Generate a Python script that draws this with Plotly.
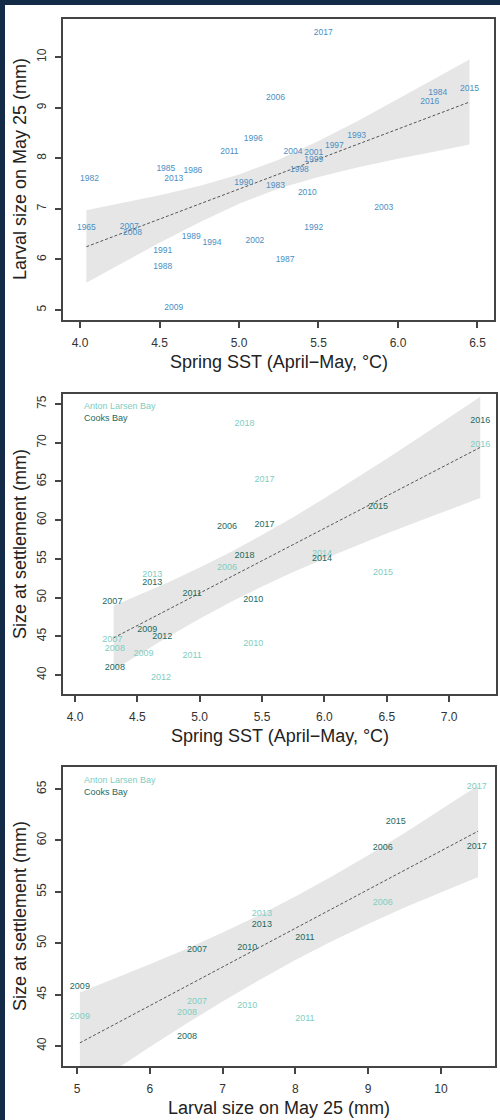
import plotly.graph_objects as go

W, H = 500, 1120
NAVY = "#142b47"
BLUE = "#4a8fc4"
LIGHT = "#80cdc1"
DARK = "#1d6a60"
BAND = "#e6e6e6"
FITC = "#555555"
AXC = "#444444"
FONT = "Liberation Sans, Arial, sans-serif"

# ---------------- Panel 1: larval size vs spring SST ----------------
p1_years = ["1982", "1985", "2013", "1986", "2011", "1996", "2017", "2006", "2004",
            "2001", "1999", "1997", "1993", "1998", "1984", "2016", "2015", "1983",
            "1990", "2010", "2003", "1965", "2007", "2008", "1989", "1994", "1991",
            "1988", "2009", "2002", "1992", "1987"]
p1_sst = [4.06, 4.54, 4.59, 4.71, 4.94, 5.09, 5.53, 5.23, 5.34,
          5.47, 5.47, 5.60, 5.74, 5.38, 6.25, 6.20, 6.45, 5.23,
          5.03, 5.43, 5.91, 4.04, 4.31, 4.33, 4.70, 4.83, 4.52,
          4.52, 4.59, 5.10, 5.47, 5.29]
p1_size = [7.59, 7.79, 7.59, 7.75, 8.12, 8.38, 10.47, 9.19, 8.12,
           8.10, 7.96, 8.24, 8.44, 7.77, 9.29, 9.11, 9.37, 7.45,
           7.51, 7.31, 7.02, 6.62, 6.64, 6.52, 6.44, 6.32, 6.17,
           5.85, 5.04, 6.36, 6.62, 5.99]
p1_fit_x = [4.04, 6.45]
p1_fit_y = [6.25, 9.11]
p1_band_x = [4.04, 4.25, 4.5, 4.75, 5.0, 5.25, 5.5, 5.75, 6.0, 6.25, 6.45]
p1_band_lo = [5.54, 5.90, 6.33, 6.73, 7.10, 7.40, 7.63, 7.82, 7.99, 8.14, 8.27]
p1_band_hi = [6.97, 7.10, 7.27, 7.45, 7.68, 7.97, 8.34, 8.74, 9.17, 9.60, 9.95]
p1_xticks = [4.0, 4.5, 5.0, 5.5, 6.0, 6.5]
p1_xticktext = ["4.0", "4.5", "5.0", "5.5", "6.0", "6.5"]
p1_yticks = [5, 6, 7, 8, 9, 10]

# ---------------- Panel 2: size at settlement vs spring SST ----------------
p2_anton_years = ["2018", "2017", "2016", "2015", "2014", "2013", "2012", "2011",
                  "2010", "2009", "2008", "2007", "2006"]
p2_anton_sst = [5.36, 5.52, 7.25, 6.47, 5.98, 4.62, 4.69, 4.94, 5.43, 4.55, 4.32, 4.30, 5.22]
p2_anton_size = [72.4, 65.2, 69.7, 53.2, 55.6, 53.0, 39.7, 42.5, 44.0, 42.8, 43.4, 44.5, 53.9]
p2_cooks_years = ["2018", "2017", "2016", "2015", "2014", "2013", "2012", "2011",
                  "2010", "2009", "2008", "2007", "2006"]
p2_cooks_sst = [5.36, 5.52, 7.25, 6.43, 5.98, 4.62, 4.70, 4.94, 5.43, 4.58, 4.32, 4.30, 5.22]
p2_cooks_size = [55.4, 59.4, 72.9, 61.7, 55.0, 51.9, 44.9, 50.5, 49.7, 45.8, 40.9, 49.4, 59.2]
p2_fit_x = [4.31, 7.25]
p2_fit_y = [44.8, 69.4]
p2_band_x = [4.31, 4.5, 4.75, 5.0, 5.25, 5.5, 5.75, 6.0, 6.25, 6.5, 6.75, 7.0, 7.25]
p2_band_lo = [40.65, 42.55, 44.97, 47.27, 49.42, 51.42, 53.29, 55.03, 56.69, 58.28, 59.83, 61.34, 62.85]
p2_band_hi = [48.95, 50.23, 51.99, 53.87, 55.90, 58.08, 60.39, 62.83, 65.35, 67.94, 70.57, 73.24, 75.95]
p2_xticks = [4.0, 4.5, 5.0, 5.5, 6.0, 6.5, 7.0]
p2_xticktext = ["4.0", "4.5", "5.0", "5.5", "6.0", "6.5", "7.0"]
p2_yticks = [40, 45, 50, 55, 60, 65, 70, 75]

# ---------------- Panel 3: size at settlement vs larval size ----------------
p3_anton_years = ["2017", "2013", "2006", "2011", "2010", "2009", "2008", "2007"]
p3_anton_larval = [10.49, 7.54, 9.20, 8.13, 7.34, 5.04, 6.51, 6.65]
p3_anton_size = [65.2, 52.9, 53.9, 42.6, 43.9, 42.8, 43.2, 44.3]
p3_cooks_years = ["2017", "2015", "2006", "2013", "2011", "2010", "2009", "2007", "2008"]
p3_cooks_larval = [10.49, 9.38, 9.20, 7.54, 8.13, 7.34, 5.04, 6.65, 6.51]
p3_cooks_size = [59.4, 61.8, 59.3, 51.8, 50.5, 49.6, 45.8, 49.4, 40.9]
p3_fit_x = [5.04, 10.51]
p3_fit_y = [40.3, 60.9]
p3_band_x = [5.04, 5.5, 6.0, 6.5, 7.0, 7.5, 8.0, 8.5, 9.0, 9.5, 10.0, 10.51]
p3_band_lo = [35.40, 37.57, 39.90, 42.16, 44.33, 46.40, 48.36, 50.18, 51.87, 53.47, 54.98, 56.45]
p3_band_hi = [45.20, 46.49, 47.94, 49.44, 51.03, 52.72, 54.54, 56.48, 58.55, 60.73, 62.98, 65.35]
p3_xticks = [5, 6, 7, 8, 9, 10]
p3_yticks = [40, 45, 50, 55, 60, 65]

legend_labels = ["Anton Larsen Bay", "Cooks Bay"]
x_titles = ["Spring SST (April\u2212May, \u00b0C)", "Spring SST (April\u2212May, \u00b0C)",
            "Larval size on May 25 (mm)"]
y_titles = ["Larval size on May 25 (mm)", "Size at settlement (mm)", "Size at settlement (mm)"]

fig = go.Figure()


def band(xs, lo, hi, xa, ya):
    fig.add_trace(go.Scatter(x=xs + xs[::-1], y=lo + hi[::-1], fill="toself",
                             fillcolor=BAND, line=dict(width=0), mode="lines",
                             hoverinfo="skip", showlegend=False, xaxis=xa, yaxis=ya))


def fit(xs, ys, xa, ya):
    fig.add_trace(go.Scatter(x=xs, y=ys, mode="lines",
                             line=dict(color=FITC, width=1, dash="3px,2px"),
                             showlegend=False, xaxis=xa, yaxis=ya))


def labels(xs, ys, txt, color, xa, ya, size=8.5):
    fig.add_trace(go.Scatter(x=xs, y=ys, text=txt, mode="text",
                             textposition="middle center",
                             textfont=dict(size=size, color=color, family=FONT),
                             showlegend=False, xaxis=xa, yaxis=ya))


band(p1_band_x, p1_band_lo, p1_band_hi, "x", "y")
fit(p1_fit_x, p1_fit_y, "x", "y")
labels(p1_sst, p1_size, p1_years, BLUE, "x", "y")

band(p2_band_x, p2_band_lo, p2_band_hi, "x2", "y2")
fit(p2_fit_x, p2_fit_y, "x2", "y2")
labels(p2_anton_sst, p2_anton_size, p2_anton_years, LIGHT, "x2", "y2", 9)
labels(p2_cooks_sst, p2_cooks_size, p2_cooks_years, DARK, "x2", "y2", 9)

band(p3_band_x, p3_band_lo, p3_band_hi, "x3", "y3")
fit(p3_fit_x, p3_fit_y, "x3", "y3")
labels(p3_anton_larval, p3_anton_size, p3_anton_years, LIGHT, "x3", "y3", 9)
labels(p3_cooks_larval, p3_cooks_size, p3_cooks_years, DARK, "x3", "y3", 9)


def px_x(p):
    return p / W


def px_y(p):
    return 1 - p / H


def xax(domain, rng, tv, tt, anchor):
    return dict(domain=domain, range=rng, anchor=anchor, tickvals=tv, ticktext=tt,
                showline=True, mirror=True, linecolor=AXC, linewidth=1.5,
                ticks="outside", ticklen=6, tickwidth=1.5, tickcolor=AXC,
                showgrid=False, zeroline=False, ticklabelstandoff=5,
                tickfont=dict(size=12, color="#333333", family=FONT))


def yax(domain, rng, tv, anchor):
    return dict(domain=domain, range=rng, anchor=anchor, tickvals=tv,
                ticktext=[str(v) for v in tv],
                showline=True, mirror=True, linecolor=AXC, linewidth=1.5,
                ticks="outside", ticklen=6, tickwidth=1.5, tickcolor=AXC,
                showgrid=False, zeroline=False, tickangle=-90, ticklabelstandoff=4,
                tickfont=dict(size=12, color="#333333", family=FONT))


xd = [px_x(63), px_x(494)]
fig.update_layout(
    width=W, height=H,
    margin=dict(l=0, r=0, t=0, b=0),
    paper_bgcolor=NAVY, plot_bgcolor="white",
    font=dict(family=FONT),
    xaxis=xax(xd, [3.893, 6.604], p1_xticks, p1_xticktext, "y"),
    yaxis=yax([px_y(320), px_y(19)], [4.802, 10.751], p1_yticks, "x"),
    xaxis2=xax([px_x(63), px_x(496)], [3.904, 7.376], p2_xticks, p2_xticktext, "y2"),
    yaxis2=yax([px_y(694), px_y(394)], [37.55, 76.29], p2_yticks, "x2"),
    xaxis3=xax([px_x(63), px_x(495)], [4.808, 10.742], p3_xticks, [str(v) for v in p3_xticks], "y3"),
    yaxis3=yax([px_y(1066), px_y(767)], [38.05, 67.14], p3_yticks, "x3"),
    shapes=[dict(type="rect", xref="paper", yref="paper", x0=px_x(5), x1=1,
                 y0=0, y1=px_y(5), fillcolor="white", line=dict(width=0), layer="below")],
)

ann = []
# axis titles
for (cx, cy, t) in [(279, 362, x_titles[0]), (280, 736, x_titles[1]), (279, 1108, x_titles[2])]:
    ann.append(dict(x=px_x(cx), y=px_y(cy), xref="paper", yref="paper", text=t,
                    showarrow=False, xanchor="center", yanchor="middle",
                    font=dict(size=18, color="#222222", family=FONT)))
for (cx, cy, t) in [(20, 169, y_titles[0]), (20, 544, y_titles[1]), (20, 916, y_titles[2])]:
    ann.append(dict(x=px_x(cx), y=px_y(cy), xref="paper", yref="paper", text=t,
                    showarrow=False, xanchor="center", yanchor="middle", textangle=-90,
                    font=dict(size=18, color="#222222", family=FONT)))
# in-panel legends
for (ly, col, t) in [(406, LIGHT, legend_labels[0]), (418, DARK, legend_labels[1]),
                     (780, LIGHT, legend_labels[0]), (792, DARK, legend_labels[1])]:
    ann.append(dict(x=px_x(82), y=px_y(ly), xref="paper", yref="paper", text=t,
                    showarrow=False, xanchor="left", yanchor="middle",
                    font=dict(size=9, color=col, family=FONT)))
fig.update_layout(annotations=ann)

fig.write_html("out.html")
